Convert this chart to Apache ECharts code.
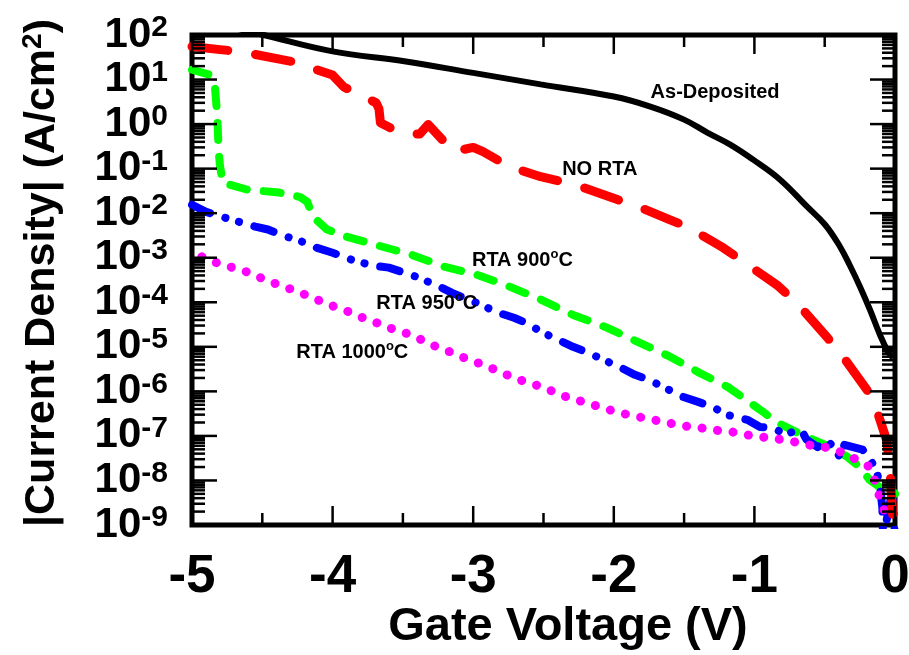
<!DOCTYPE html>
<html>
<head>
<meta charset="utf-8">
<style>
  html, body { margin: 0; padding: 0; background: #fff; }
  #chart { width: 909px; height: 655px; }
</style>
<script src="https://cdn.jsdelivr.net/npm/echarts@6/dist/echarts.min.js"></script>
</head>
<body>
<div id="chart"></div>
<script>
// Gate voltage (V) vs |current density| (A/cm^2), one list per anneal condition
const asDeposited = [
  [-5.00, 240], [-4.49, 100], [-4.00, 43], [-3.49, 25.7], [-3.00, 14.1], [-2.52, 7.8],
  [-2.00, 4.15], [-1.74, 2.47], [-1.50, 1.26], [-1.335, 0.644], [-1.172, 0.346],
  [-1.009, 0.159], [-0.817, 0.0566], [-0.625, 0.014], [-0.497, 5.5e-3], [-0.391, 1.77e-3],
  [-0.320, 6.6e-4], [-0.249, 2.24e-4], [-0.178, 6.8e-5], [-0.107, 1.86e-5],
  [-0.050, 7.8e-6], [-0.014, 5.6e-6]
];
const noRta = [
  [-5.00, 55], [-4.80, 47], [-4.65, 42], [-4.36, 28], [-4.28, 25], [-4.00, 12.6],
  [-3.92, 6.8], [-3.69, 3.0], [-3.67, 2.2], [-3.66, 1.07], [-3.55, 0.71],
  [-3.45, 0.6], [-3.38, 0.6], [-3.32, 0.98], [-3.14, 0.24], [-3.00, 0.30],
  [-2.93, 0.24], [-2.74, 0.11], [-2.52, 0.066], [-2.36, 0.050], [-2.24, 0.040],
  [-1.97, 0.020], [-1.86, 0.0155], [-1.60, 7.1e-3], [-1.48, 5.0e-3], [-1.22, 1.66e-3],
  [-1.10, 9.1e-4], [-0.84, 2.45e-4], [-0.70, 9.8e-5], [-0.48, 1.6e-5], [-0.37, 6.0e-6],
  [-0.19, 9.8e-7], [-0.13, 3.8e-7], [-0.06, 8.1e-8], [-0.035, 1.55e-8], [-0.01, 8e-10]
];
const rta900 = [
  [-5.00, 16.6], [-4.88, 12.9], [-4.84, 9.1], [-4.82, 1.48], [-4.81, 0.23], [-4.80, 0.11],
  [-4.78, 0.048], [-4.61, 0.034], [-4.38, 0.029], [-4.23, 0.023], [-4.18, 0.018],
  [-4.14, 8.3e-3], [-4.04, 4.3e-3], [-3.90, 2.95e-3], [-3.44, 1.17e-3], [-3.20, 6.2e-4],
  [-2.98, 4.2e-4], [-2.77, 2.45e-4], [-2.52, 1.15e-4], [-2.29, 5.2e-5], [-2.05, 2.7e-5],
  [-1.83, 1.29e-5], [-1.60, 6.0e-6], [-1.39, 2.6e-6], [-1.19, 1.26e-6], [-0.94, 3.5e-7],
  [-0.84, 2.0e-7], [-0.63, 9.5e-8], [-0.46, 5.6e-8], [-0.34, 3.4e-8], [-0.25, 2.0e-8],
  [-0.18, 1.02e-8], [-0.11, 7.1e-9], [-0.01, 6.2e-9], [0.00, 5e-9]
];
const rta950 = [
  [-5.00, 0.0155], [-4.90, 0.0107], [-4.79, 8.3e-3], [-4.65, 6.2e-3], [-4.55, 5.0e-3],
  [-4.46, 4.3e-3], [-4.37, 3.3e-3], [-4.20, 2.2e-3], [-4.11, 1.66e-3], [-4.00, 1.29e-3],
  [-3.86, 8.9e-4], [-3.71, 6.6e-4], [-3.60, 6.0e-4], [-3.49, 4.6e-4], [-3.40, 3.7e-4],
  [-3.24, 2.24e-4], [-3.15, 1.62e-4], [-2.98, 9.8e-5], [-2.82, 5.8e-5], [-2.71, 4.5e-5],
  [-2.61, 3.3e-5], [-2.52, 2.2e-5], [-2.40, 1.45e-5], [-2.29, 1.0e-5], [-2.20, 7.8e-6],
  [-2.10, 5.6e-6], [-1.95, 3.4e-6], [-1.85, 2.35e-6], [-1.75, 1.82e-6], [-1.65, 1.26e-6],
  [-1.51, 7.6e-7], [-1.40, 5.8e-7], [-1.30, 4.5e-7], [-1.19, 2.95e-7], [-1.05, 2.3e-7],
  [-0.96, 1.58e-7], [-0.87, 1.51e-7], [-0.77, 1.05e-7], [-0.70, 1.41e-7], [-0.66, 1.26e-7],
  [-0.63, 8.3e-8], [-0.55, 5.6e-8], [-0.48, 8.1e-8], [-0.41, 4.2e-8], [-0.39, 3.2e-8],
  [-0.36, 6.3e-8], [-0.23, 4.9e-8], [-0.18, 3.2e-8], [-0.13, 1.55e-8], [-0.11, 8.7e-9],
  [-0.09, 2.5e-9], [-0.085, 5e-10], [-0.02, 5.6e-9], [0.00, 5e-10]
];
const rta1000 = [
  [-4.93, 1.05e-3], [-4.82, 7.6e-4], [-4.71, 6.0e-4], [-4.59, 4.6e-4], [-4.48, 3.2e-4],
  [-4.38, 2.45e-4], [-4.25, 1.74e-4], [-4.14, 1.26e-4], [-4.03, 8.9e-5], [-3.92, 6.8e-5],
  [-3.81, 4.8e-5], [-3.70, 3.6e-5], [-3.60, 2.7e-5], [-3.48, 2.04e-5], [-3.37, 1.45e-5],
  [-3.26, 1.0e-5], [-3.14, 7.2e-6], [-3.03, 5.1e-6], [-2.93, 4.0e-6], [-2.81, 2.75e-6],
  [-2.71, 2.0e-6], [-2.60, 1.55e-6], [-2.49, 1.2e-6], [-2.38, 8.3e-7], [-2.27, 6.5e-7],
  [-2.15, 5.0e-7], [-2.05, 4.0e-7], [-1.94, 3.2e-7], [-1.83, 2.7e-7], [-1.72, 2.3e-7],
  [-1.61, 1.95e-7], [-1.49, 1.66e-7], [-1.38, 1.51e-7], [-1.28, 1.35e-7], [-1.16, 1.23e-7],
  [-1.05, 1.05e-7], [-0.95, 9.5e-8], [-0.83, 8.5e-8], [-0.72, 7.4e-8], [-0.62, 6.3e-8],
  [-0.50, 5.6e-8], [-0.39, 4.4e-8], [-0.28, 3.0e-8], [-0.19, 2.1e-8], [-0.14, 9.3e-9],
  [-0.11, 4.3e-9], [-0.07, 1.86e-9], [0.00, 1.35e-9]
];

// Tick positions
const xMajorTicks = [-5, -4, -3, -2, -1, 0];
const xMinorTicks = [-4.5, -3.5, -2.5, -1.5, -0.5];
const yDecades = [-9, -8, -7, -6, -5, -4, -3, -2, -1, 0, 1, 2];
const yMajorTicks = yDecades.map(e => Math.pow(10, e));
const yMinorTicks = [];
yDecades.slice(0, -1).forEach(e => {
  for (let k = 2; k <= 9; k++) yMinorTicks.push(k * Math.pow(10, e));
});

// Curve annotations: [text, unit after the degree sign, V, J]
const curveNotes = [
  ['As-Deposited', null, -1.28, 5.1],
  ['NO RTA', null, -2.10, 0.095],
  ['RTA 900', 'C', -2.65, 8.5e-4],
  ['RTA 950', 'C', -3.33, 9.3e-5],
  ['RTA 1000', 'C', -3.86, 7.4e-6]
];

(function () {
  const BOLD = 'Liberation Sans, Arial, sans-serif';
  const TICK = { majorX: 19, minorX: 12, majorY: 25, minorY: 13, width: 2.5 };

  function noteFor(i) {
    const n = curveNotes[i];
    const text = n[1] ? '{t|' + n[0] + '}{o|o}{t|' + n[1] + '}' : '{t|' + n[0] + '}';
    return {
      silent: true,
      symbol: 'circle',
      symbolSize: 0,
      data: [{ coord: [n[2], n[3]] }],
      label: {
        show: true,
        position: 'inside',
        formatter: text,
        rich: {
          t: { fontFamily: BOLD, fontWeight: 'bold', fontSize: 20, color: '#000', lineHeight: 22 },
          o: { fontFamily: BOLD, fontWeight: 'bold', fontSize: 13, color: '#000', lineHeight: 22, padding: [0, 0, 12, 0] }
        }
      }
    };
  }

  const titles = [
    {
      id: 'xTitle', type: 'text', x: 568, y: 627, z: 10,
      style: {
        text: 'Gate Voltage (V)', align: 'center', verticalAlign: 'middle',
        fontFamily: BOLD, fontWeight: 'bold', fontSize: 47, fill: '#000'
      }
    },
    {
      // vertical axis title, read bottom to top, with a superscript exponent
      id: 'yTitle', type: 'text', z: 10, rotation: Math.PI / 2, x: 42, y: 273,
      style: {
        text: '{m||Current Density| (A/cm}{s|2}{m|)}',
        align: 'center', verticalAlign: 'middle',
        rich: {
          m: { fontFamily: BOLD, fontWeight: 'bold', fontSize: 43, fill: '#000', lineHeight: 46 },
          s: { fontFamily: BOLD, fontWeight: 'bold', fontSize: 28, fill: '#000', lineHeight: 40, verticalAlign: 'top' }
        }
      }
    }
  ];

  const chart = echarts.init(document.getElementById('chart'), null, { renderer: 'canvas' });
  chart.setOption({
    backgroundColor: '#fff',
    animation: false,
    grid: {
      left: 192, top: 35, width: 703, height: 490, outerBoundsMode: 'none',
      show: true, borderColor: '#000', borderWidth: 5
    },
    xAxis: {
      type: 'value', position: 'bottom', min: -5, max: 0, interval: 1,
      axisLine: { show: false, onZero: false },
      splitLine: { show: false },
      axisTick: { show: false },
      axisLabel: {
        show: true, margin: 26, color: '#000', fontFamily: BOLD, fontWeight: 'bold', fontSize: 53,
        formatter: v => String(v)
      }
    },
    yAxis: {
      type: 'log', logBase: 10, position: 'left', min: 1e-9, max: 100,
      axisLine: { show: false, onZero: false },
      splitLine: { show: false },
      axisTick: { show: false },
      axisLabel: {
        show: true, margin: 24, customValues: yMajorTicks,
        formatter: v => '{b|10}{s|' + Math.round(Math.log10(v)) + '}',
        rich: {
          b: { fontFamily: BOLD, fontWeight: 'bold', fontSize: 42, color: '#000', lineHeight: 44 },
          s: { fontFamily: BOLD, fontWeight: 'bold', fontSize: 30, color: '#000', lineHeight: 28, verticalAlign: 'top' }
        }
      }
    },
    series: [
      {
        name: 'As-Deposited', type: 'line', data: asDeposited, showSymbol: false, smooth: 0.4,
        lineStyle: { color: '#000', width: 6 }, markPoint: noteFor(0)
      },
      {
        name: 'RTA 900', type: 'line', data: rta900, showSymbol: false,
        lineStyle: { color: '#00ff00', width: 8, type: [17, 17], cap: 'round', join: 'round' },
        markPoint: noteFor(2)
      },
      {
        name: 'RTA 950', type: 'line', data: rta950, showSymbol: false,
        lineStyle: { color: '#0000ff', width: 8, type: [20, 16, 0.1, 14, 0.1, 16], cap: 'round', join: 'round' },
        markPoint: noteFor(3)
      },
      {
        name: 'RTA 1000', type: 'line', data: rta1000, showSymbol: false,
        lineStyle: { color: '#ff00ff', width: 9, type: [0.1, 15.5], cap: 'round', join: 'round' },
        markPoint: noteFor(4)
      },
      {
        name: 'NO RTA', type: 'line', data: noRta, showSymbol: false,
        lineStyle: { color: '#ff0000', width: 9, type: [36, 28], cap: 'round', join: 'round' },
        markPoint: noteFor(1)
      }
    ],
    graphic: titles
  });

  // Inward tick marks on all four edges, positioned through the axis scales
  function tickSegment(x1, y1, x2, y2) {
    return {
      type: 'line', z: 50, silent: true,
      shape: { x1: x1, y1: y1, x2: x2, y2: y2 },
      style: { stroke: '#000', lineWidth: TICK.width }
    };
  }
  const lowCorner = chart.convertToPixel({ gridIndex: 0 }, [-5, 1e-9]);
  const highCorner = chart.convertToPixel({ gridIndex: 0 }, [0, 100]);
  const edgeL = lowCorner[0], edgeB = lowCorner[1], edgeR = highCorner[0], edgeT = highCorner[1];
  const ticks = [];
  [[xMajorTicks, TICK.majorX], [xMinorTicks, TICK.minorX]].forEach(([vals, len]) => {
    vals.forEach(v => {
      const px = chart.convertToPixel({ xAxisIndex: 0 }, v);
      ticks.push(tickSegment(px, edgeB, px, edgeB - len));
      ticks.push(tickSegment(px, edgeT, px, edgeT + len));
    });
  });
  [[yMajorTicks, TICK.majorY], [yMinorTicks, TICK.minorY]].forEach(([vals, len]) => {
    vals.forEach(v => {
      const py = chart.convertToPixel({ yAxisIndex: 0 }, v);
      ticks.push(tickSegment(edgeL, py, edgeL + len, py));
      ticks.push(tickSegment(edgeR, py, edgeR - len, py));
    });
  });
  chart.setOption({ graphic: titles.concat(ticks) });
})();
</script>
</body>
</html>
